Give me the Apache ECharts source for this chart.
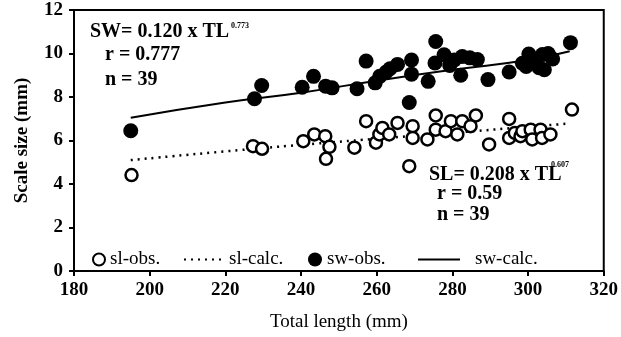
<!DOCTYPE html>
<html>
<head>
<meta charset="utf-8">
<script src="https://cdn.jsdelivr.net/npm/echarts@6/dist/echarts.min.js"></script>
<style>
  html, body { margin: 0; padding: 0; background: #fff; }
  #chart { width: 621px; height: 337px; }
</style>
</head>
<body>
<div id="chart"></div>
<script>
// observed scale width (mm) vs total length (mm)
const swObs = [
  [195, 6.45], [227.7, 7.92], [229.6, 8.53], [240.3, 8.45], [243.3, 8.95],
  [246.5, 8.5], [248.2, 8.42], [254.8, 8.38], [257.2, 9.65], [259.6, 8.65],
  [260.8, 8.95], [262.5, 9.15], [263.5, 9.3], [265.5, 9.5], [268.6, 7.75],
  [269.2, 9.7], [269.2, 9.05], [273.6, 8.72], [275.4, 9.56], [275.6, 10.55],
  [277.8, 9.94], [279.3, 9.45], [280.5, 9.7], [282.2, 9.0], [282.6, 9.86],
  [284.6, 9.8], [286.6, 9.72], [289.4, 8.8], [295, 9.15], [298.5, 9.55],
  [299.5, 9.4], [300.2, 9.98], [301, 9.6], [302.9, 9.35], [303.8, 9.95],
  [304.3, 9.25], [305.3, 10.0], [306.5, 9.75], [311.2, 10.5]
];
// observed scale length (mm)
const slObs = [
  [195.2, 4.41], [227.3, 5.74], [229.7, 5.62], [240.6, 5.97], [243.5, 6.28],
  [246.4, 6.2], [247.5, 5.71], [246.6, 5.16], [254.1, 5.67], [257.2, 6.89],
  [259.8, 5.9], [260.7, 6.28], [261.5, 6.58], [263.3, 6.28], [265.5, 6.81],
  [269.5, 6.66], [269.5, 6.12], [268.6, 4.82], [273.4, 6.05], [275.6, 7.15],
  [275.6, 6.5], [278.2, 6.43], [279.6, 6.89], [281.3, 6.28], [282.6, 6.89],
  [284.8, 6.66], [286.2, 7.15], [289.7, 5.82], [295, 6.99], [295, 6.12],
  [296.5, 6.35], [298, 6.2], [298.5, 6.43], [300.7, 6.5], [301.1, 6.05],
  [303.3, 6.5], [303.7, 6.12], [305.9, 6.28], [311.6, 7.42]
];
// fitted curves
const swCalc = [[195, 7.05], [220, 7.75], [240, 8.2], [260, 8.75], [280, 9.25], [300, 9.7], [311, 10.1]];
const slCalc = [[195, 5.1], [220, 5.5], [240, 5.8], [260, 6.08], [280, 6.35], [300, 6.63], [311, 6.78]];

const xTicks = [180, 200, 220, 240, 260, 280, 300, 320];
const yTicks = [0, 2, 4, 6, 8, 10, 12];

const serif = 'Liberation Serif';
const chart = echarts.init(document.getElementById('chart'));

function legendBox(name, left, icon, w, h, textPad) {
  let item = { name: name };
  if (icon) item.icon = icon;
  else item.itemStyle = { opacity: 0 };
  return {
    show: true,
    left: left,
    top: 245,
    orient: 'horizontal',
    itemWidth: w,
    itemHeight: h,
    data: [item],
    textStyle: { fontFamily: serif, fontSize: 19, color: '#000', padding: [0, 0, 0, textPad || 0] },
    selectedMode: false
  };
}

chart.setOption({
  animation: false,
  grid: {
    left: 74, right: 16, top: 10, bottom: 64,
    show: true, borderColor: '#000', borderWidth: 2, backgroundColor: 'transparent'
  },
  legend: [
    legendBox('sl-obs.', 87, 'circle', 12, 12),
    legendBox('sl-calc.', 178, null, 40, 10),
    legendBox('sw-obs.', 303, 'circle', 14, 14),
    legendBox('sw-calc.', 412, null, 42, 10, 10)
  ],
  xAxis: {
    type: 'value', min: 180, max: 320, interval: 20,
    name: 'Total length (mm)', nameLocation: 'middle', nameGap: 42,
    nameTextStyle: { fontFamily: serif, fontSize: 19, color: '#000' },
    axisLine: { lineStyle: { color: '#000', width: 2 } },
    axisTick: { length: 5, lineStyle: { color: '#000', width: 2 } },
    axisLabel: { fontFamily: serif, fontSize: 19, fontWeight: 'bold', color: '#000', margin: 10,
      formatter: v => xTicks.includes(v) ? String(v) : '' },
    splitLine: { show: false }
  },
  yAxis: {
    type: 'value', min: 0, max: 12, interval: 2,
    name: 'Scale size (mm)', nameLocation: 'middle', nameGap: 42, nameRotate: 90,
    nameTextStyle: { fontFamily: serif, fontSize: 19, fontWeight: 'bold', color: '#000' },
    axisLine: { lineStyle: { color: '#000', width: 2 } },
    axisTick: { length: 5, lineStyle: { color: '#000', width: 2 } },
    axisLabel: { fontFamily: serif, fontSize: 19, fontWeight: 'bold', color: '#000', margin: 11,
      formatter: v => yTicks.includes(v) ? String(v) : '' },
    splitLine: { show: false }
  },
  series: [
    {
      name: 'sl-calc.', type: 'line', data: slCalc, smooth: true, showSymbol: false, symbol: 'none',
      itemStyle: { color: '#000' },
      lineStyle: { color: '#000', width: 2.5, type: [2, 5] }, z: 2
    },
    {
      name: 'sw-calc.', type: 'line', data: swCalc, smooth: true, showSymbol: false, symbol: 'none',
      itemStyle: { color: '#000' },
      lineStyle: { color: '#000', width: 2 }, z: 2
    },
    {
      name: 'sl-obs.', type: 'scatter', data: slObs, symbol: 'circle', symbolSize: 12,
      itemStyle: { color: '#fff', borderColor: '#000', borderWidth: 2.5, opacity: 1 }, z: 3
    },
    {
      name: 'sw-obs.', type: 'scatter', data: swObs, symbol: 'circle', symbolSize: 15,
      itemStyle: { color: '#000', opacity: 1 }, z: 4
    }
  ],
  graphic: [
    { type: 'text', left: 90, top: 22, style: { text: 'SW= 0.120 x TL', font: 'bold 20px "Liberation Serif"', fill: '#000' } },
    { type: 'text', left: 231, top: 22, style: { text: '0.773', font: 'bold 8px "Liberation Serif"', fill: '#000' } },
    { type: 'text', left: 105, top: 45, style: { text: 'r = 0.777', font: 'bold 20px "Liberation Serif"', fill: '#000' } },
    { type: 'text', left: 105, top: 70, style: { text: 'n = 39', font: 'bold 20px "Liberation Serif"', fill: '#000' } },
    { type: 'text', left: 429, top: 165, style: { text: 'SL= 0.208 x TL', font: 'bold 20px "Liberation Serif"', fill: '#000' } },
    { type: 'text', left: 551, top: 161, style: { text: '0.607', font: 'bold 8px "Liberation Serif"', fill: '#000' } },
    { type: 'text', left: 437, top: 184, style: { text: 'r = 0.59', font: 'bold 20px "Liberation Serif"', fill: '#000' } },
    { type: 'text', left: 437, top: 205, style: { text: 'n = 39', font: 'bold 20px "Liberation Serif"', fill: '#000' } }
  ]
});
</script>
</body>
</html>
